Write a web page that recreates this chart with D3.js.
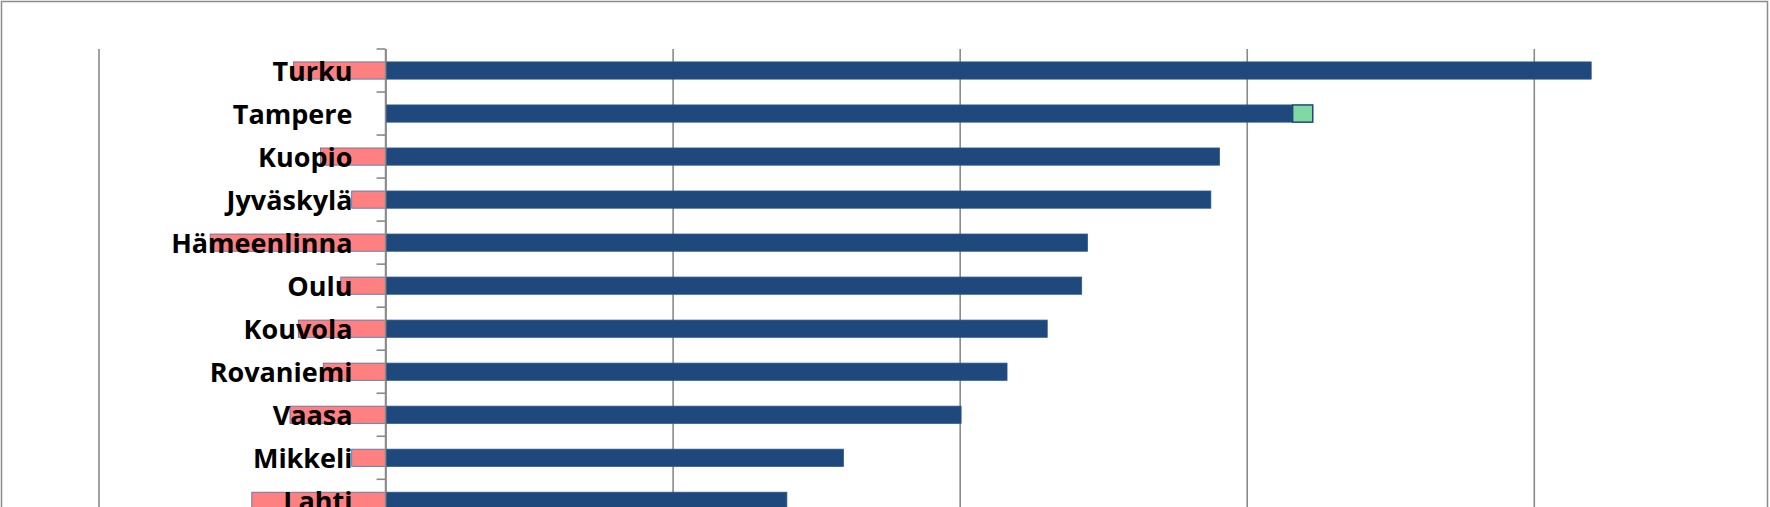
<!DOCTYPE html>
<html>
<head>
<meta charset="utf-8">
<script src="https://cdn.jsdelivr.net/npm/d3@7"></script>
<style>
  body { margin: 0; background: #fff; }
  svg { display: block; }
</style>
</head>
<body>
<svg id="chart"></svg>
<script>
// data
const cities = ["Turku", "Tampere", "Kuopio", "Jyväskylä", "Hämeenlinna", "Oulu",
                "Kouvola", "Rovaniemi", "Vaasa", "Mikkeli", "Lahti"];
const positive = [4200, 3160, 2905, 2875, 2445, 2425, 2305, 2165, 2005, 1595, 1398];
const extra    = [0, 70, 0, 0, 0, 0, 0, 0, 0, 0, 0];
const negative = [-321, 0, -227, -118, -611, -156, -304, -217, -333, -118, -466];
const xTicks = [-1000, 0, 1000, 2000, 3000, 4000];

const width = 1770;
const height = 507;
const margin = ({top: 49, left: 98.5, right: 178.8});
const plotBottom = margin.top + cities.length * 43.03;

const svg = d3.select("#chart")
  .attr("width", width)
  .attr("height", height);

// chart frame
svg.append("rect")
  .attr("x", 1.5).attr("y", 1.5)
  .attr("width", width - 4).attr("height", height + 20)
  .attr("fill", "none")
  .attr("stroke", "#8c8c8c")
  .attr("stroke-width", 1.5);

const x = d3.scaleLinear()
  .domain([-1000, 4200])
  .range([margin.left, width - margin.right]);

const y = d3.scaleBand()
  .domain(cities)
  .range([margin.top, plotBottom])
  .paddingInner(0.6)
  .paddingOuter(0.3);

// vertical gridlines
svg.append("g")
  .attr("transform", `translate(0,${plotBottom})`)
  .call(d3.axisBottom(x)
    .tickValues(xTicks)
    .tickSize(-(plotBottom - margin.top))
    .tickFormat(""))
  .call(g => g.select(".domain").remove())
  .call(g => g.selectAll(".tick line")
    .attr("stroke", "#8a8a8a")
    .attr("stroke-width", 1.6));

// bars: negative part, positive part, extra part
const bars = svg.append("g");

bars.selectAll(".neg")
  .data(cities.map((c, i) => ({c, v: negative[i]})).filter(d => d.v < 0))
  .join("rect")
  .attr("class", "neg")
  .attr("x", d => x(d.v))
  .attr("y", d => y(d.c))
  .attr("width", d => x(0) - x(d.v))
  .attr("height", y.bandwidth())
  .attr("fill", "#ff8080")
  .attr("stroke", "#4a6fa5")
  .attr("stroke-width", 0.8);

bars.selectAll(".pos")
  .data(cities.map((c, i) => ({c, v: positive[i]})))
  .join("rect")
  .attr("class", "pos")
  .attr("x", x(0))
  .attr("y", d => y(d.c))
  .attr("width", d => x(d.v) - x(0))
  .attr("height", y.bandwidth())
  .attr("fill", "#1f497d")
  .attr("stroke", "#2a568c")
  .attr("stroke-width", 0.8);

bars.selectAll(".extra")
  .data(cities.map((c, i) => ({c, base: positive[i], v: extra[i]})).filter(d => d.v > 0))
  .join("rect")
  .attr("class", "extra")
  .attr("x", d => x(d.base))
  .attr("y", d => y(d.c))
  .attr("width", d => x(d.base + d.v) - x(d.base))
  .attr("height", y.bandwidth())
  .attr("fill", "#80d9a2")
  .attr("stroke", "#1f497d")
  .attr("stroke-width", 1.5);

// category axis at zero with tick marks between categories
const bounds = d3.range(cities.length + 1).map(i => margin.top + i * y.step());
const yAxis = svg.append("g");
yAxis.append("line")
  .attr("x1", x(0)).attr("x2", x(0))
  .attr("y1", margin.top).attr("y2", plotBottom)
  .attr("stroke", "#8a8a8a")
  .attr("stroke-width", 1.6);
yAxis.selectAll(".tk")
  .data(bounds)
  .join("line")
  .attr("class", "tk")
  .attr("x1", x(0) - 9).attr("x2", x(0))
  .attr("y1", d => d).attr("y2", d => d)
  .attr("stroke", "#8a8a8a")
  .attr("stroke-width", 1.6);

// city labels, drawn over the bars
svg.append("g")
  .selectAll("text")
  .data(cities)
  .join("text")
  .attr("x", x(0) - 33)
  .attr("y", d => y(d) + y.bandwidth() / 2 + 10)
  .attr("text-anchor", "end")
  .attr("font-family", "'Open Sans', sans-serif")
  .attr("font-weight", "bold")
  .attr("font-size", "27px")
  .attr("fill", "#000")
  .text(d => d);
</script>
</body>
</html>
